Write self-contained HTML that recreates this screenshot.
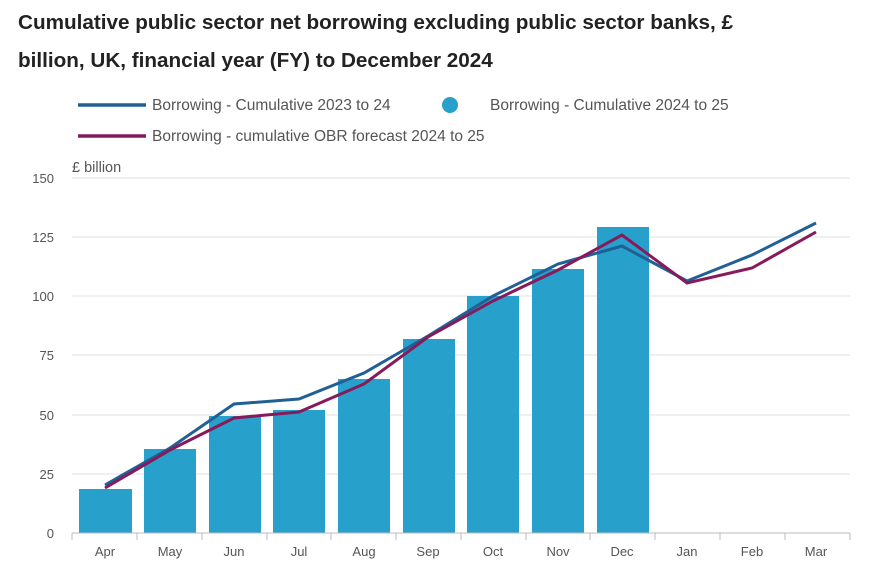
<!DOCTYPE html>
<html><head><meta charset="utf-8"><style>
body{margin:0;background:#fff;width:893px;height:585px;overflow:hidden;font-family:"Liberation Sans",sans-serif;}
.t{position:absolute;left:18px;top:4px;font-size:20.7px;font-weight:bold;color:#222;line-height:38px;width:870px;}
</style></head><body>
<div class="t">Cumulative public sector net borrowing excluding public sector banks, £<br>billion, UK, financial year (FY) to December 2024</div>
<svg width="893" height="585" style="position:absolute;left:0;top:0" font-family="Liberation Sans, sans-serif">
<g font-size="15.5" fill="#555">
<line x1="78" y1="105" x2="146" y2="105" stroke="#206095" stroke-width="3.5"/>
<text x="152" y="110">Borrowing - Cumulative 2023 to 24</text>
<circle cx="450" cy="105" r="8" fill="#27a0cc"/>
<text x="490" y="110">Borrowing - Cumulative 2024 to 25</text>
<line x1="78" y1="136" x2="146" y2="136" stroke="#871a5b" stroke-width="3.5"/>
<text x="152" y="141">Borrowing - cumulative OBR forecast 2024 to 25</text>
<text x="72" y="172" font-size="14.5">£ billion</text>
</g>
<g stroke="#e0e0e0" stroke-width="1">
<line x1="72" y1="178" x2="850" y2="178"/><line x1="72" y1="237" x2="850" y2="237"/>
<line x1="72" y1="296" x2="850" y2="296"/><line x1="72" y1="355" x2="850" y2="355"/>
<line x1="72" y1="415" x2="850" y2="415"/><line x1="72" y1="474" x2="850" y2="474"/>
</g>
<g font-size="13" fill="#555" text-anchor="end">
<text x="54" y="183">150</text><text x="54" y="242">125</text><text x="54" y="301">100</text>
<text x="54" y="360">75</text><text x="54" y="420">50</text><text x="54" y="479">25</text><text x="54" y="538">0</text>
</g>
<g fill="#27a0cc">
<rect x="79" y="489" width="53" height="44"/><rect x="144" y="449" width="52" height="84"/>
<rect x="209" y="416" width="52" height="117"/><rect x="273" y="410" width="52" height="123"/>
<rect x="338" y="379" width="52" height="154"/><rect x="403" y="339" width="52" height="194"/>
<rect x="467" y="296" width="52" height="237"/><rect x="532" y="269" width="52" height="264"/>
<rect x="597" y="227" width="52" height="306"/>
</g>
<line x1="72" y1="533" x2="850" y2="533" stroke="#bbb"/>
<g stroke="#bbb">
<line x1="72" y1="533" x2="72" y2="540"/><line x1="137" y1="533" x2="137" y2="540"/><line x1="202" y1="533" x2="202" y2="540"/>
<line x1="267" y1="533" x2="267" y2="540"/><line x1="331" y1="533" x2="331" y2="540"/><line x1="396" y1="533" x2="396" y2="540"/>
<line x1="461" y1="533" x2="461" y2="540"/><line x1="526" y1="533" x2="526" y2="540"/><line x1="590" y1="533" x2="590" y2="540"/>
<line x1="655" y1="533" x2="655" y2="540"/><line x1="720" y1="533" x2="720" y2="540"/><line x1="785" y1="533" x2="785" y2="540"/>
<line x1="850" y1="533" x2="850" y2="540"/>
</g>
<g font-size="13" fill="#555" text-anchor="middle">
<text x="105" y="556">Apr</text><text x="170" y="556">May</text><text x="234" y="556">Jun</text><text x="299" y="556">Jul</text>
<text x="364" y="556">Aug</text><text x="428" y="556">Sep</text><text x="493" y="556">Oct</text><text x="558" y="556">Nov</text>
<text x="622" y="556">Dec</text><text x="687" y="556">Jan</text><text x="752" y="556">Feb</text><text x="816" y="556">Mar</text>
</g>
<polyline fill="none" stroke="#206095" stroke-width="3" points="105,485 170,448 234,404 299,399 364,373 428,336 493,296 558,264 622,246 687,281 752,255 816,223"/>
<polyline fill="none" stroke="#871a5b" stroke-width="3" points="105,488 170,450 234,418 299,412 364,384 428,337 493,301 558,270 622,235 687,283 752,268 816,232"/>
</svg>
</body></html>
